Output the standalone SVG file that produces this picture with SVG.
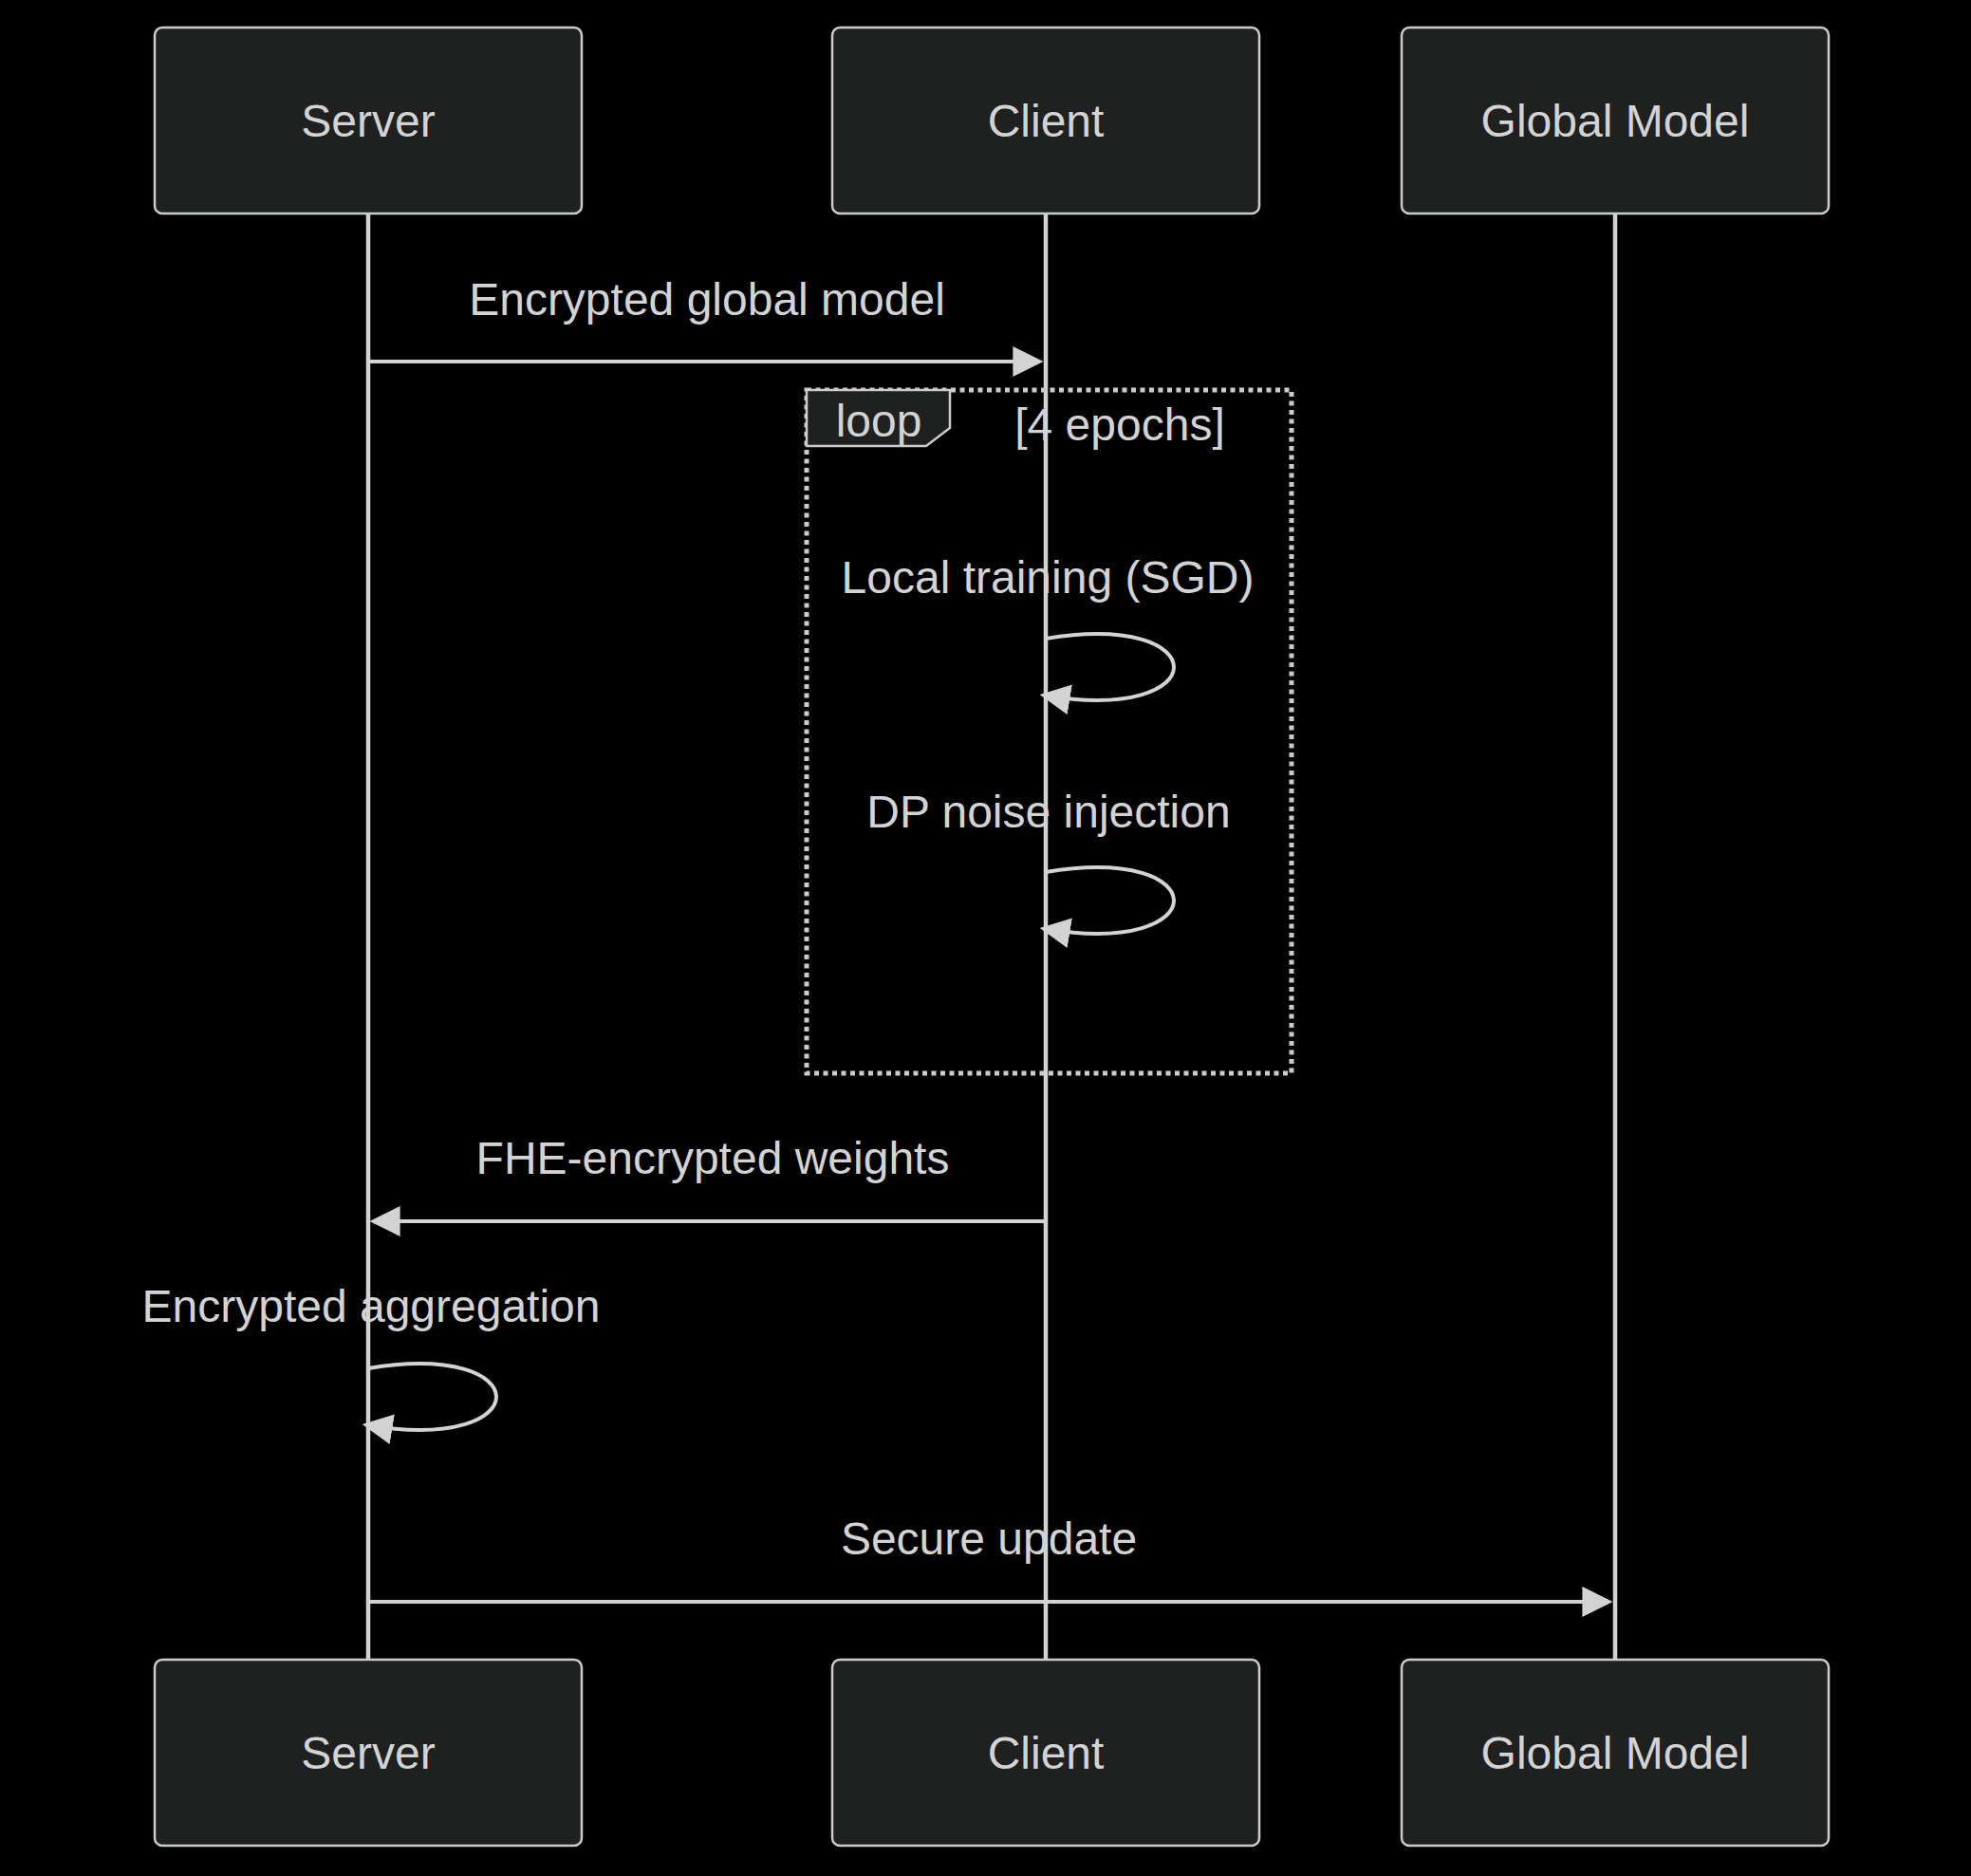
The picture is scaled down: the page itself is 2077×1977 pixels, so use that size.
<svg xmlns="http://www.w3.org/2000/svg" width="2077" height="1977" viewBox="0 0 2077 1977">
<style>
.bg{fill:#000000}
.actor{fill:#1f2020;stroke:#cccccc;stroke-width:2.5}
.t{font-family:"Liberation Sans",Arial,sans-serif;font-size:48px;fill:#d3d3d3;text-anchor:middle}
.life{stroke:#d3d3d3;stroke-width:4.5;fill:none}
.msg{stroke:#d3d3d3;stroke-width:4;fill:none}
.loopline{stroke:#cccccc;stroke-width:5;fill:none;stroke-dasharray:5 4.5}
.lbl{fill:#1f2020;stroke:#cccccc;stroke-width:2.5}
</style>
<defs>
<marker id="ah" viewBox="0 0 10 10" markerUnits="userSpaceOnUse" markerWidth="32" markerHeight="32" refX="8" refY="5" orient="auto">
<path d="M0,0 L10,5 L0,10 z" fill="#d3d3d3"/>
</marker>
</defs>
<rect class="bg" x="0" y="0" width="2077" height="1977"/>
<g id="lifelines">
<line class="life" x1="388" y1="225" x2="388" y2="1749"/>
<line class="life" x1="1102" y1="225" x2="1102" y2="1749"/>
<line class="life" x1="1702" y1="225" x2="1702" y2="1749"/>
</g>
<g id="actor-server-top"><rect class="actor" x="163" y="29" width="450" height="196" rx="8"/><text class="t" x="388" y="144">Server</text></g>
<g id="actor-client-top"><rect class="actor" x="877" y="29" width="450" height="196" rx="8"/><text class="t" x="1102" y="144">Client</text></g>
<g id="actor-global-top"><rect class="actor" x="1477" y="29" width="450" height="196" rx="8"/><text class="t" x="1702" y="144">Global Model</text></g>
<g id="actor-server-bottom"><rect class="actor" x="163" y="1749" width="450" height="196" rx="8"/><text class="t" x="388" y="1864">Server</text></g>
<g id="actor-client-bottom"><rect class="actor" x="877" y="1749" width="450" height="196" rx="8"/><text class="t" x="1102" y="1864">Client</text></g>
<g id="actor-global-bottom"><rect class="actor" x="1477" y="1749" width="450" height="196" rx="8"/><text class="t" x="1702" y="1864">Global Model</text></g>
<g id="loop">
<rect class="loopline" x="850" y="411" width="511" height="720"/>
<polygon class="lbl" points="850,411 1001,411 1001,451 976,470 850,470"/>
<text class="t" x="926" y="460">loop</text>
<text class="t" x="1180" y="464">[4 epochs]</text>
</g>
<g id="connectors">
<text class="t" x="745" y="332">Encrypted global model</text>
<line class="msg" x1="388" y1="381" x2="1093" y2="381" marker-end="url(#ah)"/>
<text class="t" x="1104" y="625">Local training (SGD)</text>
<path class="msg" d="M1102,673 C1282,643 1282,763 1102,733" marker-end="url(#ah)"/>
<text class="t" x="1105" y="872">DP noise injection</text>
<path class="msg" d="M1102,919 C1282,889 1282,1009 1102,979" marker-end="url(#ah)"/>
<text class="t" x="751" y="1237">FHE-encrypted weights</text>
<line class="msg" x1="1102" y1="1287" x2="396" y2="1287" marker-end="url(#ah)"/>
<text class="t" x="391" y="1393">Encrypted aggregation</text>
<path class="msg" d="M388,1442 C568,1412 568,1532 388,1502" marker-end="url(#ah)"/>
<text class="t" x="1042" y="1638">Secure update</text>
<line class="msg" x1="388" y1="1688" x2="1693" y2="1688" marker-end="url(#ah)"/>
</g>
</svg>
